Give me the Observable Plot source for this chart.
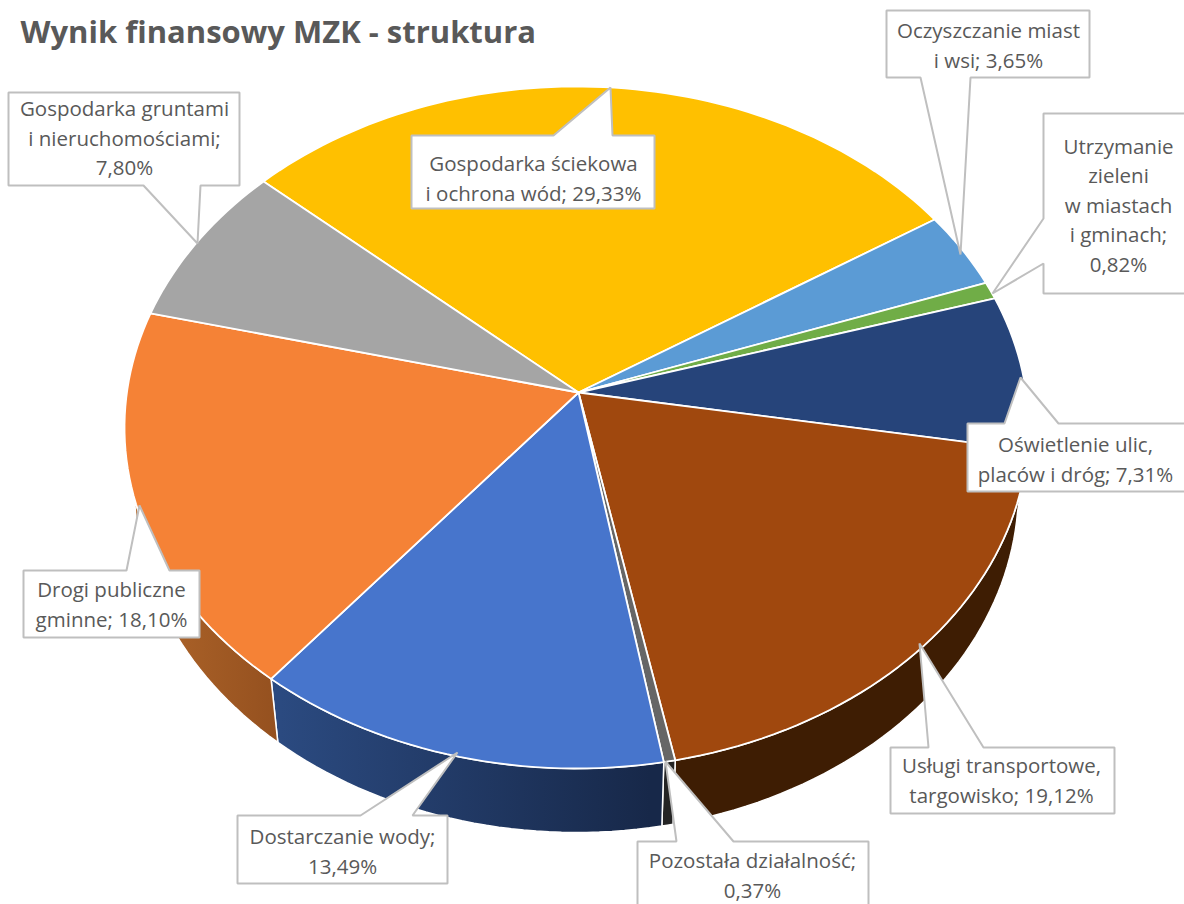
<!DOCTYPE html>
<html lang="pl">
<head>
<meta charset="utf-8">
<script src="https://cdn.jsdelivr.net/npm/d3@7"></script>
<script src="https://cdn.jsdelivr.net/npm/@observablehq/plot@0.6"></script>
<style>
html,body{margin:0;padding:0;background:#fff;overflow:hidden}
</style>
</head>
<body>
<div id="chart"></div>
<script>
// --- data (clockwise from the first slice) ---
const categories = ["Gospodarka ściekowa","Oczyszczanie miast","Utrzymanie zieleni","Oświetlenie ulic","Usługi transportowe","Pozostała działalność","Dostarczanie wody","Drogi publiczne","Gospodarka gruntami"];
const shares = [29.33,3.65,0.82,7.31,19.12,0.37,13.49,18.10,7.80];
const labelTexts = [
  "Gospodarka ściekowa\ni ochrona wód; 29,33%",
  "Oczyszczanie miast\ni wsi; 3,65%",
  "Utrzymanie\nzieleni\nw miastach\ni gminach;\n0,82%",
  "Oświetlenie ulic,\nplaców i dróg; 7,31%",
  "Usługi transportowe,\ntargowisko; 19,12%",
  "Pozostała działalność;\n0,37%",
  "Dostarczanie wody;\n13,49%",
  "Drogi publiczne\ngminne; 18,10%",
  "Gospodarka gruntami\ni nieruchomościami;\n7,80%"
];
const chartTitle = "Wynik finansowy MZK - struktura";

// --- styles ---
const topColors = ["#FFC000","#5B9BD5","#70AD47","#26447A","#A0480E","#666666","#4775CC","#F58236","#A5A5A5"];
const wallFills = {4:"#3E1D03",5:"#242424",6:"url(#wallBlue)",7:"url(#wallOrange)"};

// --- layout of the tilted pie (pixel scale of the x/y axes) ---
const rimTop = {cx:576, cy:427, rx:452, ry:341};
const rimBottom = {cx:576, cy:489, rx:442, ry:343};
const apex = {x:578, y:392};
const tilt = 0.106;          // perspective shift of the pie centre
const startAngle = -48.2;    // degrees, clockwise from 12 o'clock

// --- layout of the callouts: box [x0,y0,x1,y1], pointer [baseA, tip, baseB], label centre ---
const callouts = [
  {box:[411,135,654,208], side:"top", ptr:[[553,135],[610,87],[612,135]], at:[533,176]},
  {box:[886,10,1089,77], side:"bottom", ptr:[[970,77],[960,254],[920,77]], at:[988,43]},
  {box:[1043,113,1190,293], side:"left", ptr:[[1043,263],[992,293],[1043,218]], at:[1118,203]},
  {box:[967,423,1190,491], side:"top", ptr:[[1004,423],[1020,377],[1058,423]], at:[1075,457]},
  {box:[890,747,1114,813], side:"top", ptr:[[928,747],[919,643],[983,747]], at:[1001,778]},
  {box:[637,841,868,912], side:"top", ptr:[[676,841],[665,761],[733,841]], at:[752,873]},
  {box:[237,815,447,883], side:"top", ptr:[[360,815],[457,752],[412,815]], at:[342,849]},
  {box:[23,570,199,637], side:"top", ptr:[[126,570],[139,505],[169,570]], at:[111,602]},
  {box:[8,92,239,185], side:"bottom", ptr:[[200,185],[197,243],[143,185]], at:[124,136]}
];

// --- geometry derived from the shares ---
function rimNorm(deg){
  const t = deg*Math.PI/180, u = Math.sin(t), v = Math.cos(t), d = 1+tilt*v;
  return [u*Math.sqrt(1-tilt*tilt)/d, (v+tilt)/d];
}
const onRim = (deg, r) => { const [u,v] = rimNorm(deg); return [r.cx+u*r.rx, r.cy-v*r.ry]; };
const cum = d3.cumsum(shares), total = d3.sum(shares);
const bounds = shares.map((s,i)=>[startAngle+360*(cum[i]-s)/total, startAngle+360*cum[i]/total]);
const arc = (a,b,r) => { const n = Math.max(2,Math.ceil(Math.abs(b-a)/1.5)); return d3.range(n+1).map(k=>onRim(a+(b-a)*k/n,r)); };

const topSlices = bounds.map(([a,b],i)=>[[apex.x,apex.y],...arc(a,b,rimTop)]);
const walls = Object.keys(wallFills).map(Number).map(i=>{
  const [a,b] = bounds[i];
  return {fill:wallFills[i], pts:[...arc(a,b,rimTop),...arc(a,b,rimBottom).reverse()]};
});
const calloutShape = c => {
  const [x0,y0,x1,y1] = c.box, p = c.ptr;
  if (c.side==="top") return [[x0,y0],p[0],p[1],p[2],[x1,y0],[x1,y1],[x0,y1]];
  if (c.side==="bottom") return [[x0,y0],[x1,y0],[x1,y1],p[0],p[1],p[2],[x0,y1]];
  return [[x0,y0],[x1,y0],[x1,y1],[x0,y1],p[0],p[1],p[2]];
};
const poly = (pts, o) => Plot.line(pts, {x:d=>d[0], y:d=>d[1], curve:"linear-closed", ...o});

// gradient definitions for the two shaded side walls
function gradients(){
  const ns = "http://www.w3.org/2000/svg", defs = document.createElementNS(ns,"defs");
  [["wallBlue",280,650,"#2B4A80","#172849"],["wallOrange",135,280,"#B0662A","#94501F"]].forEach(([id,x1,x2,c1,c2])=>{
    const g = document.createElementNS(ns,"linearGradient");
    g.setAttribute("id",id); g.setAttribute("gradientUnits","userSpaceOnUse");
    g.setAttribute("x1",x1); g.setAttribute("x2",x2); g.setAttribute("y1",0); g.setAttribute("y2",0);
    [[0,c1],[1,c2]].forEach(([o,c])=>{ const s=document.createElementNS(ns,"stop"); s.setAttribute("offset",o); s.setAttribute("stop-color",c); g.appendChild(s); });
    defs.appendChild(g);
  });
  return defs;
}

const chart = Plot.plot({
  width:1184, height:904, margin:0,
  style:{background:"#fff"},
  x:{axis:null, domain:[0,1184]},
  y:{axis:null, domain:[904,0]},
  marks:[
    gradients,
    ...walls.map(w=>poly(w.pts,{fill:w.fill, stroke:"#fff", strokeWidth:1.5})),
    ...topSlices.map((pts,i)=>poly(pts,{fill:topColors[i], stroke:"#fff", strokeWidth:1.8, strokeLinejoin:"round"})),
    ...callouts.map(c=>poly(calloutShape(c),{fill:"#fff", stroke:"#BFBFBF", strokeWidth:2, strokeLinejoin:"miter"})),
    Plot.text(callouts,{x:d=>d.at[0], y:d=>d.at[1], text:(d,i)=>labelTexts[i], fontSize:20.5, lineHeight:1.44, fill:"#595959", fontFamily:"'Open Sans',sans-serif"}),
    Plot.text([chartTitle],{x:()=>20, y:()=>33, text:d=>d, textAnchor:"start", fontSize:31, fontWeight:700, fill:"#595959", fontFamily:"'Open Sans',sans-serif"})
  ]
});
document.getElementById("chart").appendChild(chart);
</script>
</body>
</html>
